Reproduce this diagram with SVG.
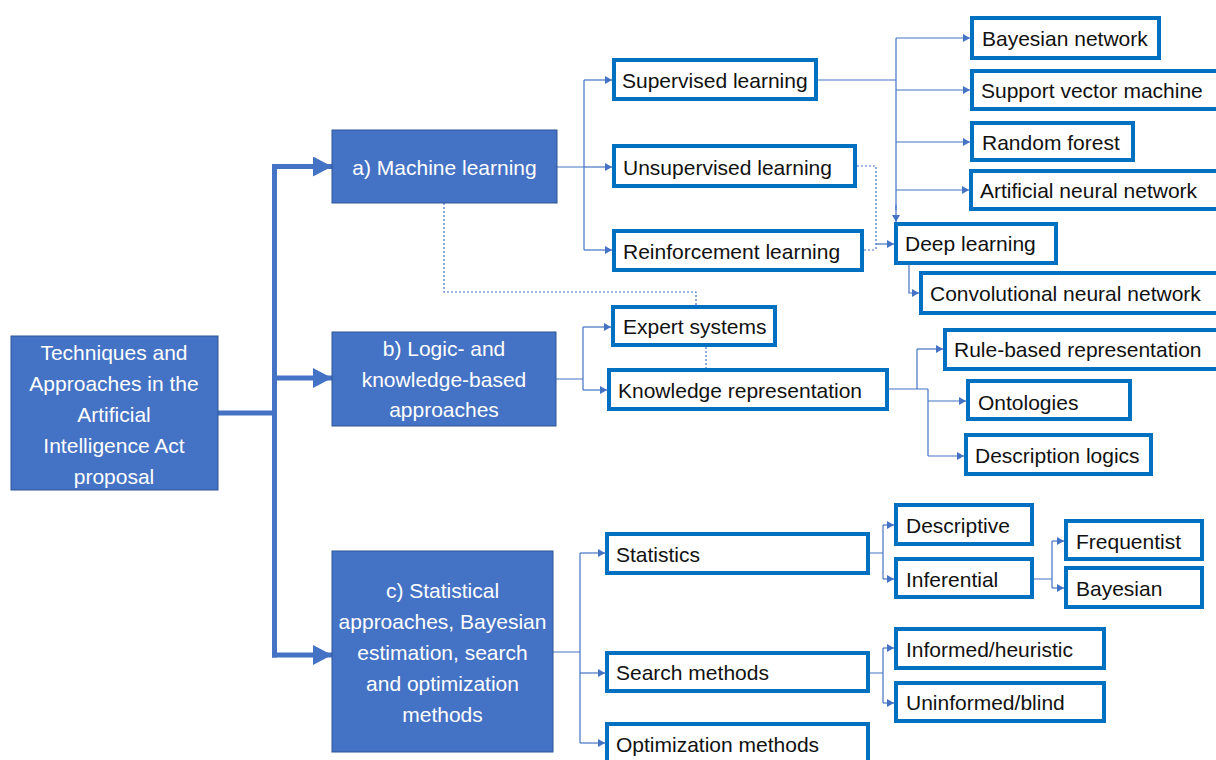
<svg xmlns="http://www.w3.org/2000/svg" width="1216" height="760" viewBox="0 0 1216 760">
<defs>
<style>
.main rect{fill:#4472C4;stroke:#2F5597;stroke-width:1}
.main text{fill:#fff;font-family:"Liberation Sans",Arial,sans-serif;font-size:21px;text-anchor:middle}
.leaf rect{fill:#fff;stroke:#0070C0;stroke-width:4}
.leaf text{fill:#111;font-family:"Liberation Sans",Arial,sans-serif;font-size:21px}
.thick{fill:none;stroke:#4472C4;stroke-width:5}
.thin{fill:none;stroke:#4472C4;stroke-width:1.2}
.dot{fill:none;stroke:#4472C4;stroke-width:1.2;stroke-dasharray:2 2}
</style>
<marker id="big" markerUnits="userSpaceOnUse" markerWidth="20" markerHeight="20" refX="19" refY="10" orient="auto">
<path d="M0,0 L19,10 L0,20 Z" fill="#4472C4"/>
</marker>
<marker id="sm" markerUnits="userSpaceOnUse" markerWidth="8" markerHeight="8" refX="7" refY="4" orient="auto">
<path d="M0,0 L7,4 L0,8 Z" fill="#4472C4"/>
</marker>
</defs>
<g id="connectors">
<path class="thick" d="M218,413 H274.5 M274.5,164 V657.5"/>
<path class="thick" d="M272,166.5 H332" marker-end="url(#big)"/>
<path class="thick" d="M272,378 H332" marker-end="url(#big)"/>
<path class="thick" d="M272,655 H332" marker-end="url(#big)"/>
<path class="thin" d="M557,167 H584 M584,80 V250"/>
<path class="thin" d="M584,80 H612" marker-end="url(#sm)"/>
<path class="thin" d="M584,167 H612" marker-end="url(#sm)"/>
<path class="thin" d="M584,250 H612" marker-end="url(#sm)"/>
<path class="thin" d="M818,80 H896 M896,38 V210"/>
<path class="thin" d="M896,38 H970" marker-end="url(#sm)"/>
<path class="thin" d="M896,90 H970" marker-end="url(#sm)"/>
<path class="thin" d="M896,142 H970" marker-end="url(#sm)"/>
<path class="thin" d="M896,190 H969" marker-end="url(#sm)"/>
<path class="thin" d="M896,205 V222" marker-end="url(#sm)"/>
<path class="dot" d="M857,166 H876 V250 M864,250 H876"/>
<path class="thin" d="M876,244 H894" marker-end="url(#sm)"/>
<path class="thin" d="M909,265 V293 H919" marker-end="url(#sm)"/>
<path class="dot" d="M444,203 V292 H696 V305 M706,347 V368"/>
<path class="thin" d="M556,379 H583 M583,327 V390"/>
<path class="thin" d="M583,327 H611" marker-end="url(#sm)"/>
<path class="thin" d="M583,390 H607" marker-end="url(#sm)"/>
<path class="thin" d="M889,389 H928 M917,389 V349"/>
<path class="thin" d="M917,349 H943" marker-end="url(#sm)"/>
<path class="thin" d="M928,389 V456"/>
<path class="thin" d="M928,401 H966" marker-end="url(#sm)"/>
<path class="thin" d="M928,456 H964" marker-end="url(#sm)"/>
<path class="thin" d="M553,652 H580 M580,553 V743"/>
<path class="thin" d="M580,553 H605" marker-end="url(#sm)"/>
<path class="thin" d="M580,673 H605" marker-end="url(#sm)"/>
<path class="thin" d="M580,743 H605" marker-end="url(#sm)"/>
<path class="thin" d="M870,553 H883 M883,525 V579"/>
<path class="thin" d="M883,525 H894" marker-end="url(#sm)"/>
<path class="thin" d="M883,579 H894" marker-end="url(#sm)"/>
<path class="thin" d="M1034,579 H1052 M1052,541 V588"/>
<path class="thin" d="M1052,541 H1064" marker-end="url(#sm)"/>
<path class="thin" d="M1052,588 H1064" marker-end="url(#sm)"/>
<path class="thin" d="M870,673 H883 M883,648 V703"/>
<path class="thin" d="M883,648 H894" marker-end="url(#sm)"/>
<path class="thin" d="M883,703 H894" marker-end="url(#sm)"/>
</g>
<g id="root" class="main">
<rect x="11" y="336" width="207" height="154"/>
<text x="114" y="360">Techniques and</text>
<text x="114" y="391">Approaches in the</text>
<text x="114" y="422">Artificial</text>
<text x="114" y="453">Intelligence Act</text>
<text x="114" y="484">proposal</text>
</g>
<g id="ml" class="main">
<rect x="332" y="130" width="225" height="73"/>
<text x="444.5" y="175">a) Machine learning</text>
</g>
<g id="logic" class="main">
<rect x="332" y="332" width="224" height="94"/>
<text x="444" y="356">b) Logic- and</text>
<text x="444" y="387">knowledge-based</text>
<text x="444" y="417">approaches</text>
</g>
<g id="stat" class="main">
<rect x="332" y="551" width="221" height="201"/>
<text x="442.5" y="598">c) Statistical</text>
<text x="442.5" y="629">approaches, Bayesian</text>
<text x="442.5" y="660">estimation, search</text>
<text x="442.5" y="691">and optimization</text>
<text x="442.5" y="722">methods</text>
</g>
<g id="supervised" class="leaf"><rect x="614" y="60" width="202" height="39"/><text x="622" y="88">Supervised learning</text></g>
<g id="unsupervised" class="leaf"><rect x="614" y="146" width="241" height="40"/><text x="623" y="175">Unsupervised learning</text></g>
<g id="reinforcement" class="leaf"><rect x="614" y="231" width="248" height="39"/><text x="623" y="259">Reinforcement learning</text></g>
<g id="bayesnet" class="leaf"><rect x="972" y="18" width="187" height="40"/><text x="982" y="46">Bayesian network</text></g>
<g id="svm" class="leaf"><rect x="972" y="71" width="250" height="38"/><text x="981" y="98">Support vector machine</text></g>
<g id="rf" class="leaf"><rect x="972" y="123" width="161" height="37"/><text x="982" y="150">Random forest</text></g>
<g id="ann" class="leaf"><rect x="971" y="171" width="251" height="38"/><text x="980" y="198">Artificial neural network</text></g>
<g id="deep" class="leaf"><rect x="896" y="224" width="160" height="39"/><text x="905" y="251">Deep learning</text></g>
<g id="cnn" class="leaf"><rect x="921" y="273" width="301" height="40"/><text x="930" y="301">Convolutional neural network</text></g>
<g id="expert" class="leaf"><rect x="613" y="307" width="162" height="38"/><text x="623" y="334">Expert systems</text></g>
<g id="knowledge" class="leaf"><rect x="609" y="370" width="278" height="39"/><text x="618" y="398">Knowledge representation</text></g>
<g id="rule" class="leaf"><rect x="945" y="330" width="277" height="39"/><text x="954" y="357">Rule-based representation</text></g>
<g id="onto" class="leaf"><rect x="968" y="381" width="162" height="38"/><text x="978" y="410">Ontologies</text></g>
<g id="desclog" class="leaf"><rect x="966" y="435" width="185" height="39"/><text x="975" y="463">Description logics</text></g>
<g id="statistics" class="leaf"><rect x="607" y="534" width="261" height="39"/><text x="616" y="562">Statistics</text></g>
<g id="search" class="leaf"><rect x="607" y="653" width="261" height="38"/><text x="616" y="680">Search methods</text></g>
<g id="optim" class="leaf"><rect x="607" y="724" width="261" height="44"/><text x="616" y="752">Optimization methods</text></g>
<g id="descriptive" class="leaf"><rect x="896" y="505" width="136" height="39"/><text x="906" y="533">Descriptive</text></g>
<g id="inferential" class="leaf"><rect x="896" y="559" width="136" height="38"/><text x="906" y="587">Inferential</text></g>
<g id="frequentist" class="leaf"><rect x="1066" y="521" width="136" height="38"/><text x="1076" y="549">Frequentist</text></g>
<g id="bayesian" class="leaf"><rect x="1066" y="568" width="136" height="39"/><text x="1076" y="596">Bayesian</text></g>
<g id="informed" class="leaf"><rect x="896" y="629" width="208" height="39"/><text x="906" y="657">Informed/heuristic</text></g>
<g id="uninformed" class="leaf"><rect x="896" y="683" width="208" height="38"/><text x="906" y="710">Uninformed/blind</text></g>
</svg>
